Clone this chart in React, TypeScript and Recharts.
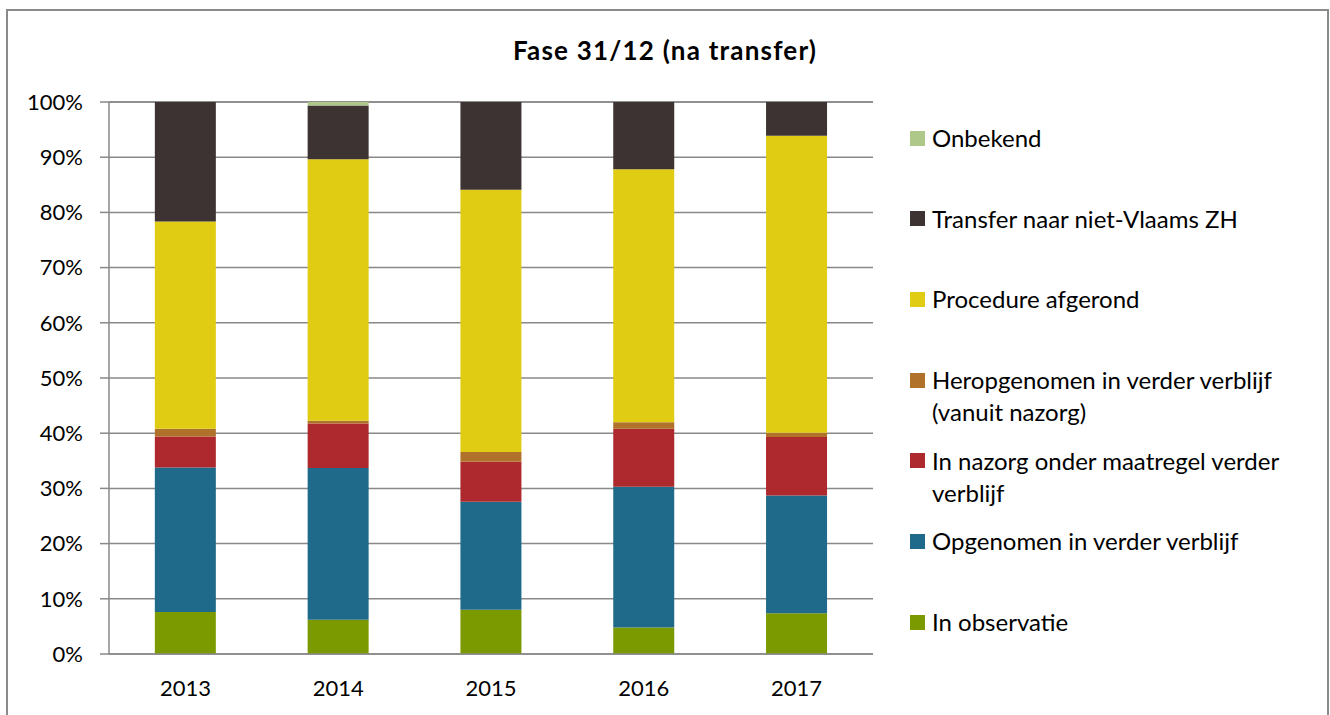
import React from 'react';
import { BarChart, Bar, XAxis, YAxis, CartesianGrid, Legend } from 'recharts';

const years = ['2013', '2014', '2015', '2016', '2017'];
const inObservatie = [7.6, 6.2, 8.0, 4.8, 7.4];
const opgenomen = [26.2, 27.5, 19.6, 25.5, 21.3];
const inNazorg = [5.6, 8.05, 7.25, 10.5, 10.6];
const heropgenomen = [1.4, 0.5, 1.75, 1.2, 0.8];
const procedureAfgerond = [37.55, 47.4, 47.5, 45.8, 53.8];
const transfer = [21.65, 9.7, 15.9, 12.2, 6.1];
const onbekend = [0, 0.65, 0, 0, 0];
const yTicks = [0, 10, 20, 30, 40, 50, 60, 70, 80, 90, 100];

const series = [
  { key: 'obs', name: 'In observatie', values: inObservatie, color: '#7B9A00' },
  { key: 'opg', name: 'Opgenomen in verder verblijf', values: opgenomen, color: '#1F6A8B' },
  { key: 'naz', name: 'In nazorg onder maatregel verder verblijf', values: inNazorg, color: '#AE292D' },
  { key: 'her', name: 'Heropgenomen in verder verblijf (vanuit nazorg)', values: heropgenomen, color: '#B0712A' },
  { key: 'proc', name: 'Procedure afgerond', values: procedureAfgerond, color: '#E0CC12' },
  { key: 'tra', name: 'Transfer naar niet-Vlaams ZH', values: transfer, color: '#3D3333' },
  { key: 'onb', name: 'Onbekend', values: onbekend, color: '#ADC888' },
];

const data = years.map((y, i) => {
  const row: any = { year: y };
  series.forEach((s) => { row[s.key] = s.values[i]; });
  return row;
});

const FONT = 'Lato, "Open Sans", sans-serif';

const LegendContent = () => {
  const items = [...series].reverse();
  return (
    <div style={{ fontFamily: FONT, fontSize: 24, color: '#000' }}>
      {items.map((it) => (
        <div key={it.key} style={{ height: 80.7, display: 'flex', alignItems: 'flex-start' }}>
          <div style={{ width: 15, height: 15, background: it.color, marginTop: 8.5, marginRight: 7, flex: '0 0 15px' }} />
          <div style={{ lineHeight: '32px', width: 385 }}>{it.name}</div>
        </div>
      ))}
    </div>
  );
};

export default function App() {
  return (
    <div style={{ position: 'fixed', left: 0, top: 0, width: 1330, height: 715, background: '#fff', overflow: 'hidden' }}>
      <div style={{ position: 'absolute', left: 6, top: 9, width: 1323, height: 720, border: '2px solid #8A8A8A', boxSizing: 'border-box' }} />
      <div style={{ position: 'absolute', left: 0, top: 34, width: 1330, textAlign: 'center', fontFamily: FONT, fontWeight: 'bold', fontSize: 26, letterSpacing: '1.2px', color: '#000', lineHeight: 'normal' }}>
        Fase 31/12 (na transfer)
      </div>
      <div style={{ position: 'absolute', left: 0, top: 0 }}>
        <BarChart
          width={1330}
          height={715}
          data={data}
          margin={{ top: 102, right: 457, bottom: 21, left: 0 }}
          barCategoryGap="30%"
        >
          <CartesianGrid vertical={false} stroke="#898989" strokeWidth={1.5} />
          <XAxis
            dataKey="year"
            height={40}
            tickLine={false}
            tickSize={0}
            tickMargin={26}
            axisLine={{ stroke: '#898989', strokeWidth: 1.5 }}
            tick={{ fontFamily: FONT, fontSize: 22, fill: '#000' }}
          />
          <YAxis
            width={109}
            domain={[0, 100]}
            ticks={yTicks}
            interval={0}
            tickFormatter={(v: number) => `${v}%`}
            tickSize={9}
            tickMargin={17}
            tickLine={{ stroke: '#898989', strokeWidth: 1.5 }}
            axisLine={{ stroke: '#898989', strokeWidth: 1.5 }}
            tick={{ fontFamily: FONT, fontSize: 22, fill: '#000' }}
          />
          {series.map((s) => (
            <Bar key={s.key} dataKey={s.key} name={s.name} stackId="a" fill={s.color} isAnimationActive={false} />
          ))}
          <Legend
            layout="vertical"
            align="center"
            verticalAlign="middle"
            content={<LegendContent />}
            wrapperStyle={{ left: 910, top: 122, width: 415 }}
          />
        </BarChart>
      </div>
    </div>
  );
}
